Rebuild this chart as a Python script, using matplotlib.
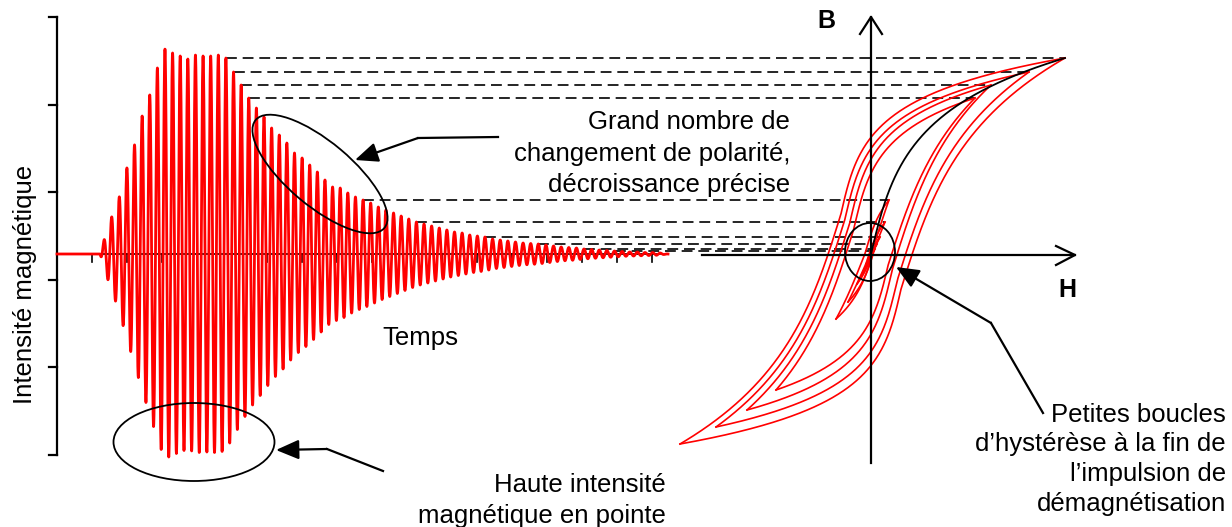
import numpy as np
import matplotlib
matplotlib.use("Agg")
import matplotlib.pyplot as plt
from matplotlib.patches import Ellipse

plt.rcParams['font.family'] = ['Liberation Sans', 'DejaVu Sans']

# amplitude of each cycle of the demagnetisation pulse (pixels above the zero line)
wave_amp = [14, 37, 57, 86, 109, 138, 159, 186, 205, 201, 198, 195, 199, 198, 198, 199,
            196, 182, 169, 156, 146, 137, 126, 119, 111, 101, 96, 89, 82, 74, 67, 66,
            61, 57, 54, 51, 47, 44, 41, 38, 35, 32, 30, 28, 26, 24, 22, 21, 19, 18,
            17, 15, 14, 13, 12, 11, 10.5, 10, 9, 8, 7, 6.5, 6, 5, 4.5, 4, 3.5, 3,
            2.5, 2, 2, 1.5, 1.5, 1]
first_peak = 104
period = 7.62
wave_start, wave_end = 100, 668

# cycles whose peaks are carried over to the B-H plane
dash_cycles = [16, 17, 18, 19, 34, 41, 50, 57, 63, 67]

# hysteresis loops (pixels relative to the B-H origin)
loop_h_up = [194, 158, 120, 104, 18, 14, 9, 6, 4, 2]
loop_h_dn = [-191, -155, -124, -95, -35, -23, -14, -8, -5, -3]
loop_b_dn = [-190, -173, -156, -136, -65, -48, -30, -18, -10, -5]
loop_shift = [30, 26, 21, 17, 6, 5, 3.5, 2.5, 1.5, 1]

left_ticks = [17, 105, 192, 280, 367, 455]
time_ticks = np.arange(92, 660, 35)

y0 = 254          # zero line of both plots
ox = 871          # B axis position

fig = plt.figure(figsize=(12.32, 5.27), dpi=100)
ax = fig.add_axes([0, 0, 1, 1])
ax.set_xlim(0, 1232)
ax.set_ylim(527, 0)
ax.axis('off')

# left plot: axis
ax.plot([57, 57], [left_ticks[0], left_ticks[-1]], color='k', lw=1.6)
for yt in left_ticks:
    ax.plot([49, 57], [yt, yt], color='k', lw=1.6)
ax.plot([time_ticks[0], 660], [y0, y0], color='k', lw=1.2)
for xt in time_ticks:
    ax.plot([xt, xt], [y0, y0 + 8], color='k', lw=1.2)

# pulse
peak_x = first_peak + period * np.arange(len(wave_amp))
t = np.linspace(57, wave_end, 8000)
env = np.interp(t, np.r_[wave_start, peak_x, wave_end], np.r_[0, wave_amp, 0], left=0, right=0)
sig = env * np.cos(2 * np.pi * (t - first_peak) / period)
ax.plot(t, y0 - sig, color='red', lw=2.0, zorder=3)


def shape(x, sgn):
    # strongly saturating on the side the branch starts from, softer on the other
    x = np.asarray(x, dtype=float)
    sat = 39 * np.arcsinh(x / 9.0)
    soft = 94.5 * np.arcsinh(x / 30.0)
    return np.where(x * sgn > 0, sat, soft)


def branch(h1, b1, h2, b2, c, sgn):
    H = np.linspace(h1, h2, 400)
    s1 = shape(h1 + sgn * c, sgn)
    s2 = shape(h2 + sgn * c, sgn)
    A = (b1 - b2) / (s1 - s2)
    D = b1 - A * s1
    return H, A * shape(H + sgn * c, sgn) + D


# hysteresis loops
loop_b_up = [wave_amp[i] for i in dash_cycles]
for hu, bu, hd, bd, c in zip(loop_h_up, loop_b_up, loop_h_dn, loop_b_dn, loop_shift):
    H, B = branch(hu, bu, hd, bd, c, 1)
    ax.plot(ox + H, y0 - B, color='red', lw=1.2, zorder=3)
    H, B = branch(hd, bd, hu, bu, c, -1)
    ax.plot(ox + H, y0 - B, color='red', lw=1.2, zorder=3)

# first magnetisation curve
Hi = np.linspace(0, loop_h_up[0], 300)
Bi = np.arcsinh(Hi / 14.0) * loop_b_up[0] / np.arcsinh(loop_h_up[0] / 14.0)
ax.plot(ox + Hi, y0 - Bi, color='k', lw=1.3, zorder=4)

# dashed links between pulse peaks and loop tips
for i, hu in zip(dash_cycles, loop_h_up):
    yy = y0 - wave_amp[i]
    ax.plot([peak_x[i], ox + hu], [yy, yy], color='k', lw=1.2, ls=(0, (6.5, 3.5)), zorder=2)

# B-H axes
ax.plot([ox, ox], [17, 463], color='k', lw=1.6, zorder=5)
ax.plot([ox - 11, ox, ox + 11], [34, 17, 34], color='k', lw=1.6, zorder=5)
ax.plot([702, 1075], [y0 + 1, y0 + 1], color='k', lw=1.6, zorder=5)
ax.plot([1056, 1075, 1056], [246, y0 + 1, 265], color='k', lw=1.6, zorder=5)
ax.text(826, 21, 'B', fontsize=18, fontweight='bold', ha='center', va='center')
ax.text(1067, 290, 'H', fontsize=18, fontweight='bold', ha='center', va='center')

# ellipses
ax.add_patch(Ellipse((320, 174), 168, 64, angle=40, fill=False, ec='k', lw=1.3, zorder=6))
ax.add_patch(Ellipse((194, 442), 161, 78, fill=False, ec='k', lw=1.3, zorder=6))
ax.add_patch(Ellipse((870, 252), 50, 58, fill=False, ec='k', lw=1.3, zorder=6))


def pointer(pts, tip):
    xs, ys = zip(*pts)
    ax.plot(xs, ys, color='k', lw=1.6, zorder=6)
    ax.annotate('', xy=tip, xytext=pts[-1],
                arrowprops=dict(arrowstyle='-|>,head_length=0.7,head_width=0.3',
                                mutation_scale=20, color='k', lw=1.6,
                                shrinkA=0, shrinkB=0), zorder=6)


pointer([(498, 137), (418, 138)], (355, 160))
pointer([(383, 471), (327, 449)], (276, 450))
pointer([(1043, 413), (991, 323)], (896, 267))

fs = 18.5
for s, yb in zip(['Grand nombre de', 'changement de polarité,', 'décroissance précise'],
                 [129, 161, 192]):
    ax.text(790, yb, s, fontsize=fs, ha='right', va='baseline')
for s, yb in zip(['Haute intensité', 'magnétique en pointe'], [492, 523]):
    ax.text(666, yb, s, fontsize=fs, ha='right', va='baseline')
for s, yb in zip(['Petites boucles', 'd\u2019hystérèse à la fin de',
                  'l\u2019impulsion de', 'démagnétisation'], [422, 451, 481, 511]):
    ax.text(1226, yb, s, fontsize=fs, ha='right', va='baseline')
ax.text(420, 345, 'Temps', fontsize=fs, ha='center', va='baseline')
ax.text(25, 284, 'Intensité magnétique', fontsize=fs, rotation=90, ha='center', va='center')

fig.savefig('out.png', dpi=100)
